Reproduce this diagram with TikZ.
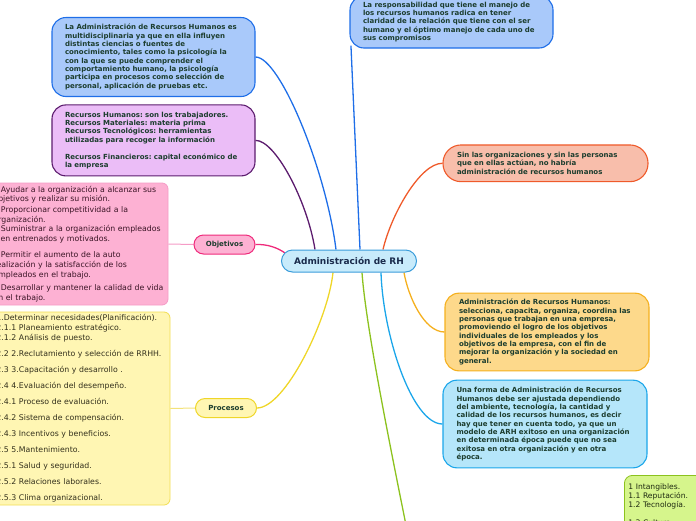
\documentclass[tikz,border=0pt]{standalone}
\usepackage{fontspec}
\setmainfont{DejaVu Sans}
\usetikzlibrary{backgrounds}
\frenchspacing
\definecolor{ink}{HTML}{1C3D2E}
\definecolor{navy}{HTML}{1A2B4C}
\definecolor{hubfill}{HTML}{C8EBFB}
\definecolor{hubline}{HTML}{3A9CDA}
\definecolor{bluefill}{HTML}{A9C9FA}
\definecolor{blueline}{HTML}{1E6EE8}
\definecolor{plumfill}{HTML}{EBBDF7}
\definecolor{plumline}{HTML}{5C1C6E}
\definecolor{salmonfill}{HTML}{F8BEAB}
\definecolor{salmonline}{HTML}{EF5A2A}
\definecolor{goldfill}{HTML}{FDD98B}
\definecolor{goldline}{HTML}{F5B01E}
\definecolor{skyfill}{HTML}{B5E6FA}
\definecolor{skyline}{HTML}{1BA6EA}
\definecolor{limefill}{HTML}{D6F58C}
\definecolor{limeline}{HTML}{8CC21E}
\definecolor{pinkfill}{HTML}{FDB1D3}
\definecolor{pinkline}{HTML}{EF2A7B}
\definecolor{pinksoft}{HTML}{F59BC6}
\definecolor{lemonfill}{HTML}{FFF6B3}
\definecolor{lemonline}{HTML}{EFD628}
\definecolor{lemonsoft}{HTML}{F3E27A}
\definecolor{pinkink}{HTML}{3B1526}
\definecolor{lemonink}{HTML}{33301C}
\definecolor{limeink}{HTML}{1E2A10}

\begin{document}
\begin{tikzpicture}[x=1pt, y=-1pt,
    idea/.style={draw, rounded corners=14pt, line width=1.1pt, align=left, text=ink, inner xsep=13pt, inner ysep=0pt, text width=177pt, font=\bfseries\fontsize{7}{8.35}\selectfont},
    list/.style={draw, rounded corners=6pt, line width=0.8pt, align=left, inner ysep=0pt, font=\fontsize{7.8}{9.6}\selectfont},
    tag/.style={draw, rounded corners=9.5pt, line width=1pt, minimum width=61pt, minimum height=19pt, inner sep=0pt, text=ink, font=\bfseries\fontsize{7}{8}\selectfont},
    link/.style={line width=1.3pt},
    twig/.style={line width=1pt}
]
\useasboundingbox (0,0) rectangle (696,520);
\clip (0,0) rectangle (696,520);

\node[draw=hubline, fill=hubfill, line width=1pt, rounded corners=11pt, minimum width=135pt, minimum height=22pt, inner sep=0pt, text=navy, font=\bfseries\fontsize{9}{10}\selectfont] (hub) at (349,261) {Administración de RH};

\node[idea, fill=bluefill, draw=blueline, minimum height=79pt] (multi) at (153.5,57) {La Administración de Recursos Humanos es\\multidisciplinaria ya que en ella influyen\\distintas ciencias o fuentes de\\conocimiento, tales como la psicología la\\con la que se puede comprender el\\comportamiento humano, la psicología\\participa en procesos como selección de\\personal, aplicación de pruebas etc.};
\node[idea, fill=plumfill, draw=plumline, minimum height=71pt] (kinds) at (153.5,140.4) {Recursos Humanos: son los trabajadores.\\Recursos Materiales: materia prima\\Recursos Tecnológicos: herramientas\\utilizadas para recoger la información\\[8.6pt]Recursos Financieros: capital económico de\\la empresa};
\node[idea, fill=bluefill, draw=blueline, minimum height=52pt] (resp) at (451.5,22) {La responsabilidad que tiene el manejo de\\los recursos humanos radica en tener\\claridad de la relación que tiene con el ser\\humano y el óptimo manejo de cada uno de\\sus compromisos};
\node[idea, fill=salmonfill, draw=salmonline, rounded corners=18pt, inner xsep=14pt, minimum height=36.7pt] (orgs) at (545.5,163.3) {Sin las organizaciones y sin las personas\\que en ellas actúan, no habría\\administración de recursos humanos};
\node[idea, fill=goldfill, draw=goldline, inner xsep=14pt, text width=176pt, minimum height=77.7pt] (defn) at (547,332) {Administración de Recursos Humanos:\\selecciona, capacita, organiza, coordina las\\personas que trabajan en una empresa,\\promoviendo el logro de los objetivos\\individuales de los empleados y los\\objetivos de la empresa, con el fin de\\mejorar la organización y la sociedad en\\general.};
\node[idea, fill=skyfill, draw=skyline, inner xsep=13.5pt, minimum height=87.7pt] (model) at (545,424) {Una forma de Administración de Recursos\\Humanos debe ser ajustada dependiendo\\del ambiente, tecnología, la cantidad y\\calidad de los recursos humanos, es decir\\hay que tener en cuenta todo, ya que un\\modelo de ARH exitoso en una organización\\en determinada época puede que no sea\\exitosa en otra organización y en otra\\época.};
\node[list, fill=limefill, draw=limeline, text=limeink, anchor=north west, rounded corners=8pt, inner xsep=4pt, inner ysep=1pt, text width=80pt, minimum height=62pt, font=\fontsize{7.6}{9}\selectfont] (assets) at (624,475) {\\[-6pt]1 Intangibles.\\1.1 Reputación.\\1.2 Tecnología.\\[9pt]1.3 Cultura.};

\node[tag, fill=pinkfill, draw=pinkline] (goals) at (224.5,244.5) {Objetivos};
\node[list, fill=pinkfill, draw=pinksoft, text=pinkink, inner xsep=3.5pt, text width=171pt, minimum height=122pt] (goallist) at (79,244) {1.Ayudar a la organización a alcanzar sus\\objetivos y realizar su misión.\\[1pt]2.Proporcionar competitividad a la\\organización.\\3.Suministrar a la organización empleados\\bien entrenados y motivados.\\[7pt]4.Permitir el aumento de la auto\\realización y la satisfacción de los\\empleados en el trabajo.\\[4pt]5.Desarrollar y mantener la calidad de vida\\en el trabajo.};
\node[tag, fill=lemonfill, draw=lemonline] (steps) at (226,408) {Procesos};
\node[list, fill=lemonfill, draw=lemonline!80!white, text=lemonink, inner xsep=6.5pt, text width=167pt, minimum height=193pt, font=\fontsize{7.8}{10}\selectfont] (steplist) at (80,408.5) {1.Determinar necesidades(Planificación).\\2.1.1 Planeamiento estratégico.\\2.1.2 Análisis de puesto.\\[6pt]2.2 2.Reclutamiento y selección de RRHH.\\[6pt]2.3 3.Capacitación y desarrollo .\\[6pt]2.4 4.Evaluación del desempeño.\\[6pt]2.4.1 Proceso de evaluación.\\[6pt]2.4.2 Sistema de compensación.\\[6pt]2.4.3 Incentivos y beneficios.\\[6pt]2.5 5.Mantenimiento.\\[6pt]2.5.1 Salud y seguridad.\\[6pt]2.5.2 Relaciones laborales.\\[6pt]2.5.3 Clima organizacional.};

\coordinate (onward) at (410,545);

\begin{scope}[on background layer]
\draw[link, blueline] (multi.east) .. controls (280,57) and (326,170) .. ([xshift=-13pt]hub.north);
\draw[link, plumline] (kinds.east) .. controls (275,140) and (307,200) .. ([xshift=-34pt]hub.north);
\draw[link, blueline] ([xshift=1.5pt,yshift=3pt]resp.south west) -- ([xshift=11pt]hub.north);
\draw[link, salmonline] (orgs.west) .. controls (420,163) and (391,215) .. ([xshift=34pt]hub.north);
\draw[link, goldline] (defn.west) .. controls (424,332) and (408,296) .. ([xshift=55pt]hub.south);
\draw[link, skyline] (model.west) .. controls (412,424) and (383,335) .. ([xshift=32pt]hub.south);
\draw[link, limeline] ([xshift=13pt]hub.south) .. controls (366,330) and (395,470) .. (onward);
\draw[link, lemonline] (steps.east) .. controls (285,408) and (328,320) .. ([xshift=-16pt]hub.south);
\draw[link, pinkline] (goals.east) .. controls (268,244) and (278,248) .. ([xshift=4pt,yshift=8pt]hub.west);
\draw[twig, pinksoft] (goals.west) -- (goallist.east);
\draw[twig, lemonsoft] (steps.west) -- (steplist.east);
\end{scope}
\end{tikzpicture}
\end{document}
